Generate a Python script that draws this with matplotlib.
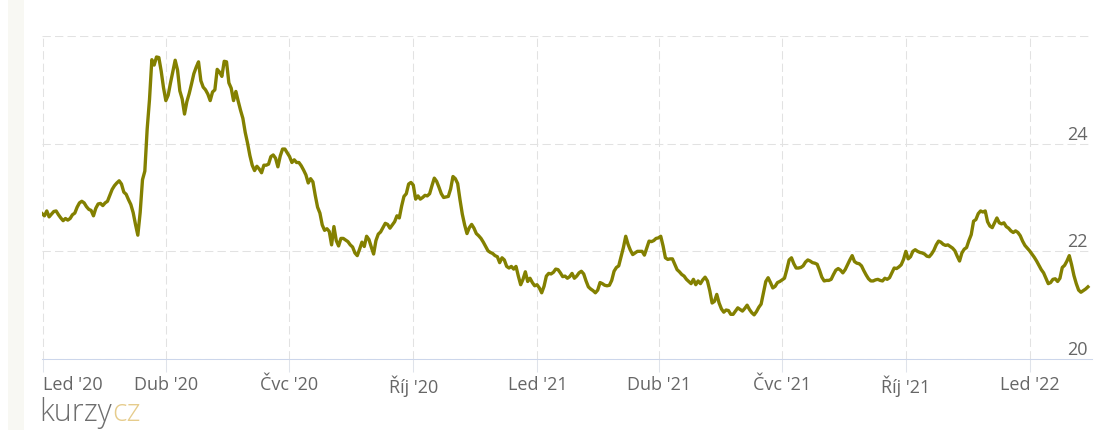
import pandas as pd
import matplotlib
matplotlib.use("Agg")
import matplotlib.pyplot as plt
from matplotlib.patches import Rectangle

# USD/CZK (roughly 1.7 days per point)
start, end = "2019-12-31", "2022-02-13"
rate = [
    # Jan - Apr 2020
    22.70, 22.66, 22.75, 22.64, 22.69, 22.74, 22.75, 22.68, 22.62, 22.57,
    22.61, 22.58, 22.61, 22.68, 22.71, 22.82, 22.90, 22.93, 22.90, 22.83,
    22.78, 22.76, 22.66, 22.80, 22.88, 22.89, 22.85, 22.90, 22.93, 23.04,
    23.15, 23.22, 23.27, 23.31, 23.25, 23.10, 23.06, 22.96, 22.87, 22.72,
    22.50, 22.30, 22.72, 23.33, 23.49, 24.27, 24.82, 25.56, 25.46, 25.61,
    25.60, 25.35, 25.04, 24.80, 24.90, 25.13, 25.34, 25.55, 25.37, 24.98,
    24.83, 24.55, 24.78, 24.93, 25.11, 25.30, 25.42, 25.52, 25.17, 25.05,
    25.00, 24.92, 24.80, 24.96,
    # May - Sep 2020
    25.00, 25.38, 25.33, 25.25, 25.53, 25.52, 25.13, 25.03, 24.80, 24.97,
    24.79, 24.62, 24.47, 24.21, 24.01, 23.78, 23.60, 23.50, 23.58, 23.53,
    23.46, 23.60, 23.60, 23.62, 23.76, 23.79, 23.73, 23.57, 23.77, 23.90,
    23.90, 23.83, 23.76, 23.65, 23.70, 23.65, 23.65, 23.59, 23.51, 23.42,
    23.27, 23.35, 23.29, 23.04, 22.82, 22.71, 22.49, 22.39, 22.42, 22.37,
    22.12, 22.46, 22.20, 22.10, 22.24, 22.24, 22.21, 22.18, 22.12, 22.08,
    21.97, 21.92, 22.04, 22.17, 22.09, 22.28, 22.22, 22.08, 21.95, 22.20,
    22.32, 22.36, 22.44, 22.52, 22.50,
    # Sep 2020 - Feb 2021
    22.43, 22.49, 22.55, 22.66, 22.62, 22.84, 23.02, 23.07, 23.25, 23.28,
    23.23, 22.97, 23.03, 22.97, 23.00, 23.04, 23.03, 23.07, 23.22, 23.36,
    23.30, 23.19, 23.07, 23.00, 23.01, 23.02, 23.16, 23.39, 23.35, 23.26,
    22.96, 22.69, 22.49, 22.33, 22.44, 22.50, 22.43, 22.33, 22.29, 22.24,
    22.17, 22.09, 22.01, 21.98, 21.96, 21.92, 21.90, 21.79, 21.88, 21.84,
    21.72, 21.69, 21.72, 21.67, 21.72, 21.54, 21.38, 21.48, 21.62, 21.44,
    21.50, 21.42, 21.36, 21.38, 21.32, 21.23, 21.35, 21.54, 21.59, 21.58,
    21.61, 21.67, 21.66, 21.60, 21.53,
    # Feb - Jun 2021
    21.54, 21.50, 21.53, 21.59, 21.50, 21.54, 21.60, 21.63, 21.58, 21.45,
    21.34, 21.30, 21.27, 21.23, 21.28, 21.42, 21.40, 21.37, 21.36, 21.37,
    21.46, 21.63, 21.70, 21.73, 21.90, 22.07, 22.28, 22.13, 22.02, 21.94,
    21.97, 22.00, 22.00, 22.00, 21.93, 22.06, 22.19, 22.18, 22.20, 22.24,
    22.25, 22.28, 22.10, 21.88, 21.85, 21.86, 21.86, 21.76, 21.66, 21.62,
    21.57, 21.54, 21.48, 21.44, 21.40, 21.48, 21.38, 21.45, 21.40, 21.47,
    21.52, 21.45, 21.27, 21.04, 21.07, 21.20, 21.04, 20.93, 20.87, 20.91,
    20.90, 20.83, 20.83, 20.89, 20.95,
    # Jun - Oct 2021
    20.92, 20.89, 20.94, 21.00, 20.92, 20.86, 20.82, 20.88, 20.96, 21.02,
    21.23, 21.44, 21.51, 21.42, 21.32, 21.35, 21.42, 21.44, 21.47, 21.50,
    21.66, 21.84, 21.88, 21.77, 21.69, 21.69, 21.70, 21.73, 21.80, 21.84,
    21.82, 21.79, 21.78, 21.76, 21.65, 21.52, 21.45, 21.46, 21.46, 21.48,
    21.57, 21.65, 21.68, 21.65, 21.60, 21.66, 21.75, 21.84, 21.92, 21.81,
    21.78, 21.77, 21.73, 21.64, 21.56, 21.49, 21.45, 21.45, 21.47, 21.48,
    21.46, 21.45, 21.50, 21.48, 21.51, 21.60, 21.69, 21.68, 21.71, 21.75,
    21.85, 22.00, 21.86, 21.90, 22.00,
    # Oct 2021 - Feb 2022
    22.03, 22.00, 21.98, 21.97, 21.95, 21.91, 21.90, 21.95, 22.02, 22.12,
    22.19, 22.17, 22.13, 22.11, 22.12, 22.09, 22.06, 22.01, 21.91, 21.82,
    21.97, 22.04, 22.07, 22.20, 22.31, 22.56, 22.59, 22.70, 22.75, 22.73,
    22.75, 22.55, 22.47, 22.44, 22.53, 22.62, 22.53, 22.51, 22.53, 22.46,
    22.43, 22.38, 22.35, 22.38, 22.35, 22.29, 22.19, 22.11, 22.06, 22.01,
    21.95, 21.89, 21.82, 21.74, 21.66, 21.60, 21.50, 21.40, 21.42, 21.48,
    21.49, 21.44, 21.50, 21.70, 21.74, 21.82, 21.92, 21.75, 21.55, 21.40,
    21.28, 21.24, 21.27, 21.30, 21.34,
]

tick_dates = ["2020-01-01", "2020-04-01", "2020-07-01", "2020-10-01",
              "2021-01-01", "2021-04-01", "2021-07-01", "2021-10-01",
              "2022-01-01"]
tick_labels = ["Led '20", "Dub '20", "Čvc '20", "Říj '20", "Led '21",
               "Dub '21", "Čvc '21", "Říj '21", "Led '22"]
y_ticks = [20, 22, 24, 26]
y_labels = ["20", "22", "24", ""]

plt.rcParams["font.family"] = ["Open Sans", "DejaVu Sans"]

dates = pd.date_range(start, end, periods=len(rate))

W, H = 1107, 430
fig = plt.figure(figsize=(W / 100, H / 100), dpi=100)
fig.patches.append(Rectangle((8 / W, 0), 16 / W, 1, transform=fig.transFigure,
                             facecolor="#f8f8f3", edgecolor="none", zorder=0))

ax = fig.add_axes([42 / W, 71 / H, 1050 / W, 323 / H])
ax.plot(dates, rate, color="#838000", lw=2.4, solid_joinstyle="round", zorder=3)

ax.set_xlim(pd.Timestamp("2019-12-30 22:00"), pd.Timestamp("2022-02-16"))
ax.set_ylim(20, 26)

# x axis
ax.set_xticks(pd.to_datetime(tick_dates), tick_labels)
ax.tick_params(axis="x", length=9, width=0.75, color="#dfe3ea", pad=3,
               labelsize=13, labelcolor="#666666")
ax.get_xticklabels()[0].set_ha("left")

# y axis, labels inside on the right
ax.set_yticks(y_ticks, y_labels)
ax.yaxis.tick_right()
ax.tick_params(axis="y", length=0, pad=-3, labelsize=13, labelcolor="#666666")
for lab in ax.get_yticklabels():
    lab.set_ha("right")
    lab.set_va("bottom")

ax.grid(True, color="#e2e2e2", lw=0.75, dashes=(8, 4))
for s in ["top", "left", "right"]:
    ax.spines[s].set_visible(False)
ax.spines["bottom"].set_color("#ccd6eb")
ax.spines["bottom"].set_linewidth(0.75)

# logo: "kurzy" grey, "cz" pale gold right after it
t1 = fig.text(39 / W, 1 - 421 / H, "kurzy", fontsize=22, color="#6e6e6e",
              fontweight="light", va="baseline", ha="left")
fig.canvas.draw()
bb = t1.get_window_extent()
fig.text(bb.x1 / W, 1 - 421 / H, "cz", fontsize=22, color="#e6cc8c",
         fontweight="light", va="baseline", ha="left")

fig.savefig("out.png", dpi=100)
